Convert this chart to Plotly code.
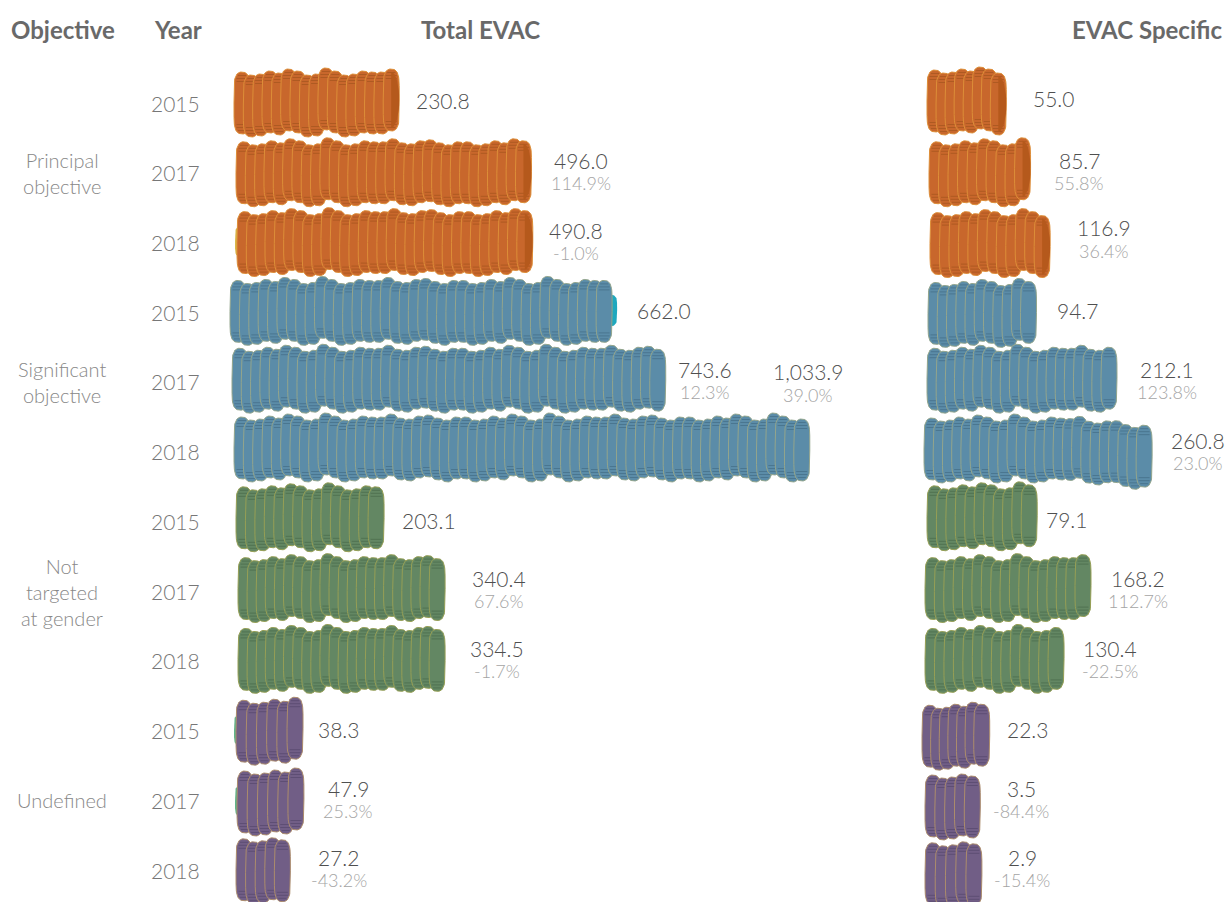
import numpy as np
import plotly.graph_objects as go

# ---------- data ----------
OBJECTIVES = ["Principal<br>objective", "Significant<br>objective", "Not<br>targeted<br>at gender", "Undefined"]
YEARS = ["2015", "2017", "2018"] * 4
TOTAL_EVAC = [230.8, 496.0, 490.8, 662.0, 743.6, 1033.9, 203.1, 340.4, 334.5, 38.3, 47.9, 27.2]
TOTAL_PCT = ["", "114.9%", "-1.0%", "", "12.3%", "39.0%", "", "67.6%", "-1.7%", "", "25.3%", "-43.2%"]
SPECIFIC = [55.0, 85.7, 116.9, 94.7, 212.1, 260.8, 79.1, 168.2, 130.4, 22.3, 3.5, 2.9]
SPECIFIC_PCT = ["", "55.8%", "36.4%", "", "123.8%", "23.0%", "", "112.7%", "-22.5%", "", "-84.4%", "-15.4%"]

# ---------- layout constants (pixels of the 1226x902 page) ----------
W, H = 1226, 902
ROW_PX = 69.8
Y_TOP = 102
COIN_W, COIN_H = 8.0, 31.0
PITCH = 9.3
COLORS = [
    dict(body="#C8672C", edge="#DD8E38", stripe="#AE5A22", face="#B5591C"),
    dict(body="#5B8CA8", edge="#93A58C", stripe="#4A7690", face=None),
    dict(body="#638763", edge="#969F55", stripe="#507251", face=None),
    dict(body="#715E86", edge="#AC8C6C", stripe="#5E4E74", face=None),
]
JITTER = [1, 4, 3, 0, 2, -2, 0, 4, 3, -3, 0, 4, 3, 0, 1, 1, -2, 2, 3, 0, -1, 2, 4, 1]
PANELS = [
    dict(xaxis="x", yaxis="y", dom=(200, 900), scale=0.51, zero=273.5,
         start=[234, 236, 237, 230, 232, 234, 236, 238, 238, 236, 237, 236],
         nudge=[0, -3, 1, -7, 5, 1, -1, -10, -7, 2, -2, -5],
         shift=[0, 0, 0, -1, -3, -4, -4, -3, -2, 0, 1, -1]),
    dict(xaxis="x2", yaxis="y", dom=(905, 1226), scale=0.66, zero=972.0,
         start=[927, 929, 930, 928, 927, 924, 927, 925, 925, 922, 925, 925],
         nudge=[-10, -6, -7, -6, -3, 0, 5, 0, -2, -5, -2, 0],
         shift=[-2, 0, 1, 1, -3, -3, -5, -3, -2, 5, 5, 3]),
]
TILT = {(1, 5): 8}
UNDER = {(0, 3): ("#1FA8BE", "end", 5), (0, 9): ("#5FB58A", "start", -2),
         (0, 10): ("#5FB58A", "start", -2), (0, 2): ("#D9B84A", "start", -2)}

fig = go.Figure()
t = np.linspace(0, 2 * np.pi, 61)
cx = np.sign(np.cos(t)) * np.abs(np.cos(t)) ** 0.85
cy = np.sign(np.sin(t)) * np.abs(np.sin(t)) ** 0.34
RY = ROW_PX  # pixels per row on the y axis

for p, panel in enumerate(PANELS):
    s = panel["scale"]
    for r in range(12):
        g = r // 3
        col = COLORS[g]
        v = (TOTAL_EVAC if p == 0 else SPECIFIC)[r]
        last = v + panel["nudge"][r] / s
        first = (panel["start"][r] + COIN_W - panel["zero"]) / s
        n = int(round((last - first) * s / PITCH)) + 1
        centers = np.linspace(first, last, n)
        row_y = r + panel["shift"][r] / RY
        tilt = TILT.get((p, r), 0)
        if (p, r) in UNDER:
            c, where, dx = UNDER[(p, r)]
            base = centers[-1] if where == "end" else centers[0]
            fig.add_trace(go.Scatter(
                x=base + (dx + cx * COIN_W) / s, y=row_y + cy * 16 / RY, mode="lines",
                fill="toself", fillcolor=c, line=dict(color=c, width=0),
                xaxis=panel["xaxis"], yaxis=panel["yaxis"], hoverinfo="skip"))
        for i, xc in enumerate(centers):
            drop = tilt * max(0, (i - n * 0.6) / (n * 0.4))
            yc = row_y + (JITTER[i % len(JITTER)] + drop) / RY
            fig.add_trace(go.Scatter(
                x=xc + cx * COIN_W / s, y=yc + cy * COIN_H / RY, mode="lines",
                fill="toself", fillcolor=col["body"], line=dict(color=col["edge"], width=1),
                xaxis=panel["xaxis"], yaxis=panel["yaxis"], hoverinfo="skip"))
            sx, sy = [], []
            for off in (-27.5, -24.5, -21.5, 21.5, 24.5, 27.5):
                half = 5.5 if abs(off) < 27 else 4.0
                sx += [xc - half / s, xc + half / s, None]
                sy += [yc + off / RY, yc + off / RY, None]
            fig.add_trace(go.Scatter(
                x=sx, y=sy, mode="lines", line=dict(color=col["stripe"], width=1),
                xaxis=panel["xaxis"], yaxis=panel["yaxis"], hoverinfo="skip"))
        if col["face"]:
            a = np.linspace(-np.pi / 2, np.pi / 2, 24)
            outer = COIN_W * np.cos(a)
            inner = 0.0 * np.cos(a)
            yy = np.sin(a) * (COIN_H - 3)
            fig.add_trace(go.Scatter(
                x=centers[-1] + np.r_[outer, inner[::-1]] / s,
                y=row_y + (JITTER[(n - 1) % len(JITTER)] + tilt) / RY + np.r_[yy, yy[::-1]] / RY,
                mode="lines", fill="toself", fillcolor=col["face"],
                line=dict(color=col["face"], width=0),
                xaxis=panel["xaxis"], yaxis=panel["yaxis"], hoverinfo="skip"))

def px_x(x):
    return x / W

def px_y(y):
    return 1 - y / H

ann = []
FONT = "Lato"
def text(s, x, y, size, color, weight=300):
    ann.append(dict(text=s, x=px_x(x), y=px_y(y), xref="paper", yref="paper", showarrow=False,
                    xanchor="center", yanchor="middle", align="center",
                    font=dict(family=FONT, size=size, color=color, weight=weight)))

for s, x in (("Objective", 63), ("Year", 178), ("Total EVAC", 481), ("EVAC Specific", 1147)):
    text(s, x, 30, 24, "#696969", 700)

OBJ_Y = [173, 382, 592, 800]
for s, y in zip(OBJECTIVES, OBJ_Y):
    text(s, 62, y, 20, "#888888")
YEAR_Y = [103, 172, 242, 312, 381, 451, 521, 591, 660, 730, 800, 870]
for s, y in zip(YEARS, YEAR_Y):
    text(s, 175, y, 21, "#777777")

VAL_X = [[443, 581, 576, 664, 705, 808, 429, 499, 497, 338, 348, 339],
         [1053, 1079, 1104, 1077, 1167, 1198, 1066, 1138, 1110, 1027, 1021, 1022]]
VAL_Y = [[101, 160, 230, 310, 369, 372, 520, 578, 648, 729, 788, 857],
         [99, 160, 228, 310, 369, 440, 519, 578, 648, 729, 788, 857]]
for p, (vals, pcts) in enumerate(((TOTAL_EVAC, TOTAL_PCT), (SPECIFIC, SPECIFIC_PCT))):
    for r in range(12):
        text(f"{vals[r]:,.1f}", VAL_X[p][r], VAL_Y[p][r], 21, "#4F4F4F")
        if pcts[r]:
            text(pcts[r], VAL_X[p][r], VAL_Y[p][r] + 23, 18, "#A4A4A4")

layout = dict(
    width=W, height=H, margin=dict(l=0, r=0, t=0, b=0), showlegend=False,
    paper_bgcolor="white", plot_bgcolor="white", annotations=ann,
    yaxis=dict(visible=False, range=[(H - Y_TOP) / RY, -Y_TOP / RY], domain=[0, 1]),
)
for key, panel in zip(("xaxis", "xaxis2"), PANELS):
    a, b = panel["dom"]
    layout[key] = dict(visible=False, domain=[a / W, b / W], anchor="y",
                       range=[(a - panel["zero"]) / panel["scale"], (b - panel["zero"]) / panel["scale"]])
fig.update_layout(**layout)
fig.write_html("out.html", config=dict(displayModeBar=False),
               post_script="document.body.style.margin='0';document.body.style.overflow='hidden';")
